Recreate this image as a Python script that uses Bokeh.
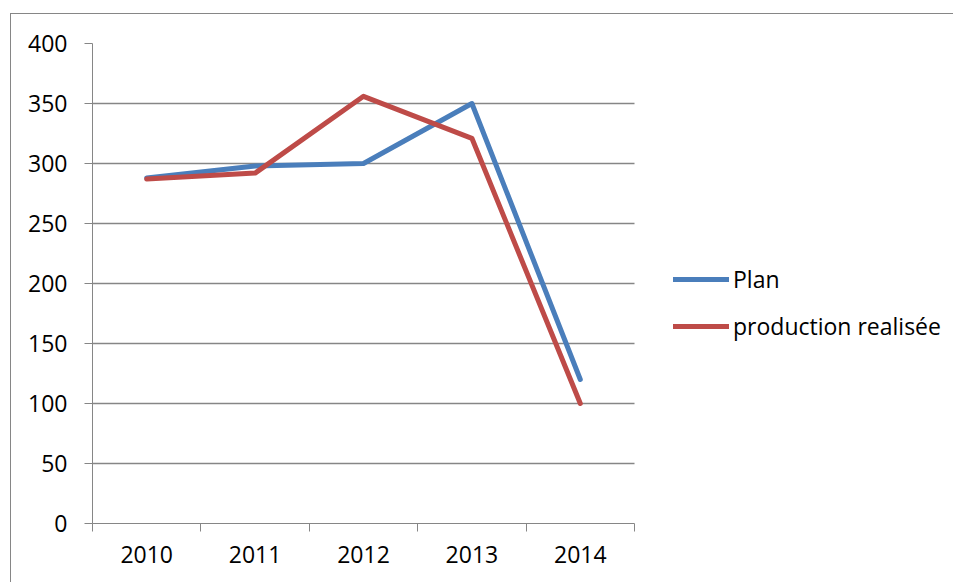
from bokeh.plotting import figure
from bokeh.models import (ColumnDataSource, FixedTicker, Legend, LegendItem, Range1d)
from bokeh.embed import file_html
from bokeh.resources import INLINE

# Production data per year
years = ["2010", "2011", "2012", "2013", "2014"]
plan = [288, 298, 300, 350, 120]
production = [287, 292, 356, 321, 100]
y_ticks = [0, 50, 100, 150, 200, 250, 300, 350, 400]

FONT = "Open Sans"
FONT_SIZE = "23px"
GRID = "#868686"
TEXT = "#000000"

# page layout (px): the plot area is 542 px wide, the legend lives to its right
FIG_W, FIG_H = 943, 569
LEFT, TOP, BOTTOM = 81, 29, 60
PLOT_W = 542
FRAME_W = FIG_W - LEFT
n = len(years)

# categories sit at the middle of each unit slot
xs = [i + 0.5 for i in range(n)]
source = ColumnDataSource(dict(x=xs, plan=plan, production=production))

p = figure(width=FIG_W, height=FIG_H, output_backend="svg", toolbar_location=None,
           x_range=Range1d(0, n * FRAME_W / PLOT_W), y_range=Range1d(0, 400),
           min_border_left=LEFT, min_border_right=0,
           min_border_top=TOP, min_border_bottom=BOTTOM)
p.margin = (13, 0, 0, 10)
p.styles = {"border-top": "1px solid #868686", "border-left": "1px solid #868686"}
p.outline_line_color = None
p.background_fill_color = "white"
p.border_fill_color = "white"

# x axis: labels at slot centres, tick marks at slot boundaries
xa = p.xaxis[0]
xa.bounds = (0, n)
xa.ticker = FixedTicker(ticks=xs, minor_ticks=list(range(n + 1)))
xa.major_label_overrides = {x: y for x, y in zip(xs, years)}
xa.major_tick_out = 0
xa.major_tick_in = 0
xa.minor_tick_out = 8
xa.minor_tick_in = 0
xa.minor_tick_line_color = GRID
xa.axis_line_color = GRID
xa.major_label_text_font = FONT
xa.major_label_text_font_size = FONT_SIZE
xa.major_label_text_color = TEXT
xa.major_label_standoff = 14

ya = p.yaxis[0]
ya.ticker = FixedTicker(ticks=y_ticks, minor_ticks=[])
ya.major_tick_out = 8
ya.major_tick_in = 0
ya.major_tick_line_color = GRID
ya.axis_line_color = GRID
ya.minor_tick_line_color = None
ya.major_label_text_font = FONT
ya.major_label_text_font_size = FONT_SIZE
ya.major_label_text_color = TEXT
ya.major_label_standoff = 17

p.xgrid.grid_line_color = None
p.ygrid.grid_line_color = GRID
p.ygrid.grid_line_width = 1.3
p.ygrid.cross_bounds = (0, n)

r_plan = p.line("x", "plan", source=source, line_color="#4A7EBB", line_width=5,
                line_cap="round", line_join="round")
r_prod = p.line("x", "production", source=source, line_color="#BE4B48", line_width=5,
                line_cap="round", line_join="round")

legend = Legend(items=[LegendItem(label="Plan", renderers=[r_plan]),
                       LegendItem(label="production realisée", renderers=[r_prod])],
                location=(PLOT_W + 39, 181))
legend.glyph_width = 56
legend.glyph_height = 28
legend.spacing = 15
legend.label_standoff = 4
legend.label_height = 28
legend.padding = 0
legend.margin = 0
legend.border_line_color = None
legend.background_fill_alpha = 0
legend.label_text_font = FONT
legend.label_text_font_size = FONT_SIZE
legend.label_text_color = TEXT
p.add_layout(legend, "center")

open("out.html", "w").write(file_html(p, INLINE))
